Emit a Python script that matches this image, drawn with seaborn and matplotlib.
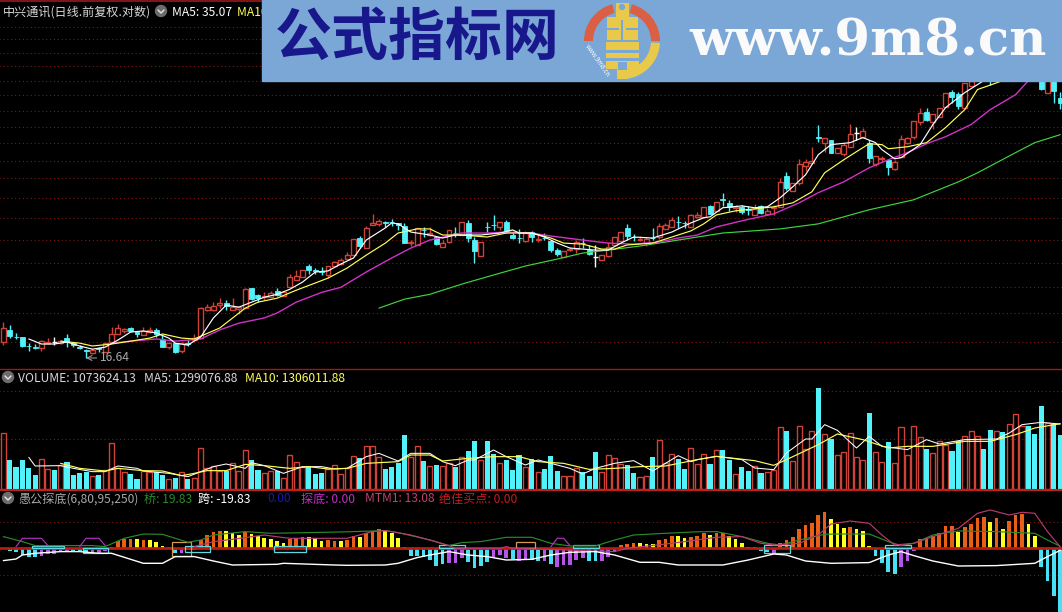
import numpy as np
import pandas as pd
import seaborn as sns
from matplotlib import pyplot as plt
from matplotlib.patches import Rectangle, Wedge, Circle

# daily candles, price
opens = [17.35,17.91,17.60,17.58,17.19,17.14,17.08,17.31,17.33,17.31,
         17.53,17.30,17.14,16.97,16.86,17.08,16.90,17.35,17.72,17.86,
         18.00,17.81,17.67,17.81,17.91,17.49,17.12,17.30,16.95,17.32,
         17.44,17.53,18.86,18.86,19.11,19.21,18.86,18.91,18.96,19.97,
         19.61,19.51,19.51,19.81,19.56,20.02,20.40,20.57,21.17,20.95,
         20.90,20.68,21.17,21.28,21.56,21.78,22.78,22.19,23.58,23.64,
         23.73,23.78,23.70,23.51,22.48,22.37,23.29,22.96,22.84,22.25,
         22.54,23.10,22.96,23.70,22.66,21.73,23.47,23.60,23.45,23.76,
         22.96,22.80,22.60,23.14,22.66,22.80,22.60,22.07,21.67,22.07,
         22.13,22.50,22.07,21.67,21.50,21.73,22.37,22.60,23.39,22.86,
         22.69,22.48,22.80,22.84,23.33,23.45,23.78,23.72,23.45,24.08,
         24.08,24.78,24.46,25.20,24.98,24.66,24.72,24.55,24.20,24.78,
         24.27,24.66,24.72,26.81,25.78,26.33,27.53,27.75,29.65,29.24,
         29.47,28.49,28.41,28.93,30.02,29.70,29.24,27.67,28.04,27.96,
         27.31,28.18,29.24,29.70,30.90,31.72,30.90,31.30,32.13,33.42,
         33.25,32.05,33.95,34.67,35.4,35.97,35.22,36.6,36.1,36.9,
         37.4,38.0,36.9,36.35,33.33,35.6,32.90]
closes = [18.00,17.63,17.56,17.17,17.15,17.10,17.39,17.35,17.33,17.39,
          17.35,17.21,17.10,16.93,16.99,17.03,17.30,17.72,18.00,17.95,
          17.86,17.72,17.86,17.91,17.72,17.12,17.30,16.90,17.30,17.28,
          17.53,18.96,19.01,19.06,19.21,19.06,19.01,19.01,19.92,19.41,
          19.46,19.56,19.71,19.61,19.76,20.57,20.62,20.95,20.95,20.90,
          20.84,21.17,21.39,21.50,21.78,22.72,22.31,23.39,23.70,23.83,
          23.68,23.74,23.58,22.48,22.54,23.39,23.25,23.08,22.42,22.48,
          23.27,23.06,23.76,22.78,22.01,22.54,23.43,23.56,23.76,23.14,
          22.78,22.76,23.08,22.84,22.72,22.76,22.07,21.84,22.01,22.13,
          22.54,22.46,21.84,21.67,21.78,22.25,22.84,23.14,22.90,22.82,
          22.75,22.72,22.76,23.51,23.58,23.89,23.74,23.68,24.20,24.20,
          24.72,24.27,25.05,25.15,24.72,24.72,24.40,24.51,24.59,24.33,
          24.46,24.72,26.39,25.98,26.33,27.67,27.82,27.89,29.60,29.63,
          28.49,28.86,29.09,29.94,30.02,30.18,28.11,28.26,28.11,27.46,
          27.82,29.55,29.63,30.98,31.64,31.06,31.55,32.05,33.33,32.98,
          32.22,34.22,34.40,35.22,35.0,34.85,36.35,36.0,37.1,37.8,
          38.1,36.7,35.4,33.69,35.97,33.51,32.47]
highs = [18.28,18.14,17.77,17.60,17.30,17.26,17.44,17.53,17.58,17.44,
         17.72,17.35,17.21,17.03,17.03,17.12,17.30,18.05,18.19,18.00,
         18.05,17.86,18.05,18.05,18.00,17.67,17.35,17.30,17.35,17.44,
         17.72,19.01,19.16,19.26,19.46,19.36,19.46,19.06,19.97,19.97,
         19.66,19.76,19.81,19.97,19.81,20.73,20.95,20.95,21.28,21.06,
         21.11,21.17,21.45,21.62,21.96,22.72,22.90,23.51,24.27,23.95,
         23.83,23.95,23.70,23.70,22.66,23.39,23.45,23.45,22.90,22.66,
         23.27,23.45,23.76,23.89,22.84,22.54,23.76,24.20,23.76,23.89,
         23.08,23.33,23.21,23.21,22.96,23.08,22.66,22.19,22.01,22.25,
         22.66,22.78,22.37,22.37,21.78,22.54,22.84,23.14,23.64,23.02,
         22.90,22.84,23.39,23.70,23.70,24.08,24.14,23.83,24.27,24.40,
         24.72,24.85,25.05,25.65,25.18,24.85,24.85,24.78,24.91,24.85,
         24.66,24.85,26.67,27.10,26.33,28.03,28.03,28.93,30.66,29.63,
         29.47,28.86,29.24,30.74,30.50,30.42,29.47,28.26,28.26,28.03,
         27.96,29.86,29.70,30.98,32.05,32.05,31.55,32.05,33.33,33.60,
         33.42,34.22,34.60,35.5,35.7,36.2,36.6,36.9,37.4,38.1,
         38.4,38.2,37.1,36.6,36.2,36.0,33.42]
lows = [17.22,17.53,17.49,17.12,16.95,17.03,16.95,17.26,17.21,17.26,
        17.12,17.12,17.03,16.64,16.81,16.90,16.90,17.35,17.72,17.77,
        17.81,17.58,17.67,17.77,17.58,17.12,17.03,16.86,16.86,17.17,
        17.44,17.53,18.81,18.81,18.96,18.86,18.86,18.67,18.96,19.36,
        19.26,19.36,19.51,19.56,19.56,20.02,20.40,20.57,20.73,20.73,
        20.68,20.51,21.17,21.23,21.56,21.78,22.19,22.19,23.58,23.51,
        23.45,23.51,23.27,22.48,22.31,22.37,22.84,22.90,22.37,22.25,
        22.48,22.84,22.96,22.54,21.34,21.73,23.14,23.27,23.27,23.08,
        22.72,22.48,22.54,22.54,22.54,22.66,21.96,21.73,21.67,22.01,
        21.90,22.19,21.78,21.11,21.50,21.67,22.37,22.60,22.66,22.60,
        22.60,22.31,22.66,22.72,23.33,23.45,23.39,23.39,23.45,24.02,
        24.08,24.27,24.46,24.78,24.46,24.40,24.27,24.20,24.20,24.27,
        24.20,24.20,24.72,25.85,25.78,26.19,27.17,27.75,29.32,28.56,
        28.49,28.49,28.26,28.93,29.47,29.70,27.74,27.53,27.82,26.88,
        27.24,28.18,29.16,29.55,30.66,30.98,30.34,31.30,32.13,32.47,
        31.97,32.05,33.95,34.5,34.8,34.04,35.1,35.8,36.0,36.7,
        37.2,36.5,35.2,33.6,33.33,32.47,31.97]

# price moving averages, read at the bars listed
ma5_idx = [4,6,8,10,12,14,16,18,20,22,24,26,27,29,31,33,35,37,39,41,43,45,47,49,51,53,55,57,60,61,
           62,64,65,67,69,71,73,75,78,80,81,83,85,87,89,91,93,95,97,99,102,105,108,110,111,113,116,
           118,120,122,124,126,128,130,133,135,137,138,140,141,144,146,148,151,154,157,160,163,166]
ma5 = [17.49,17.26,17.26,17.35,17.17,17.03,17.12,17.44,17.81,17.86,17.77,17.53,17.30,17.21,17.58,
       18.48,19.11,19.01,19.26,19.51,19.66,19.92,20.30,20.84,20.90,21.28,21.62,22.66,23.39,23.70,
       23.64,23.14,23.08,22.96,22.78,22.96,22.96,22.96,23.08,23.27,23.08,23.08,22.84,22.48,22.19,
       22.13,22.07,22.07,22.48,22.84,22.78,23.14,23.70,24.02,24.08,24.66,24.78,24.66,24.72,25.31,
       26.05,26.88,28.33,29.09,29.24,29.63,29.24,28.71,28.03,28.11,29.09,30.66,32.05,33.33,34.40,
       35.3,36.3,36.4,35.07]
ma10_idx = [9,12,14,17,20,23,25,28,30,34,38,40,43,46,49,51,54,57,60,62,65,67,69,72,76,79,83,86,88,91,
            94,96,98,102,105,108,110,112,115,118,121,124,127,129,132,134,136,138,139,142,145,148,151,
            153,157,160,163,166]
ma10 = [17.39,17.30,17.17,17.26,17.39,17.53,17.72,17.53,17.49,18.00,18.96,19.26,19.46,19.87,20.25,
        20.51,21.06,21.78,22.48,23.08,23.33,23.33,22.96,22.96,22.84,23.08,23.08,22.78,22.48,22.42,
        22.13,22.13,22.37,22.48,22.84,23.21,23.64,24.20,24.46,24.59,24.72,24.98,25.71,27.02,27.96,
        28.56,29.16,29.09,28.78,28.93,29.24,30.42,31.88,33.60,34.40,35.2,36.4,36.87]
ma30_idx = [17,20,24,27,31,34,37,41,43,46,50,53,54,57,61,64,67,72,76,79,83,86,91,95,99,103,106,109,
            112,116,121,125,128,132,136,139,142,145,148,152,155,159,161,163,166]
ma30 = [17.30,17.39,17.49,17.39,17.49,17.91,18.23,18.48,18.72,19.26,19.76,20.02,20.22,20.84,21.62,
        22.19,22.66,23.08,23.08,23.14,23.08,22.90,22.66,22.48,22.42,22.54,22.78,22.96,23.45,23.83,
        24.27,24.98,25.65,26.39,27.38,27.96,28.49,29.16,29.70,30.66,31.88,33.16,34.40,35.0,36.0]
ma120_idx = [59,63,67,72,77,82,87,91,95,100,104,109,113,122,128,132,136,143,150,153,159,162,166]
ma120 = [18.96,19.41,19.66,20.19,20.68,21.17,21.56,21.90,22.07,22.31,22.54,22.84,23.08,23.33,23.64,
         24.08,24.53,25.18,26.39,27.02,28.49,29.24,29.86]
price_grid = [39.58,38.36,36.97,35.74,34.40,33.16,31.80,30.50,29.24,27.89,26.67,25.31,24.02,22.66,
              21.34,20.02,18.72,17.35]

# volume in thousands
volume = [1113,580,447,580,413,280,593,400,380,480,547,280,327,347,260,287,380,913,413,340,
          300,200,367,340,333,280,200,227,347,200,227,813,413,467,367,367,513,360,780,580,
          380,313,360,360,213,680,533,447,447,300,327,400,480,300,413,660,613,860,860,633,
          400,433,513,1080,647,860,560,460,480,460,513,447,647,760,960,580,960,693,513,580,
          380,680,433,593,333,400,660,360,253,253,413,347,260,733,333,680,613,493,480,313,
          233,267,640,980,513,693,593,400,813,493,700,507,773,787,587,300,440,367,453,327,
          340,387,1240,1167,553,1260,800,1160,2020,1100,1007,680,740,1120,640,580,1527,740,540,947,
          520,1240,680,1260,1040,800,720,960,880,767,960,1060,1160,1053,800,1187,1167,1140,1300,1500,
          1253,1267,1107,1667,1320,1300,1074]
vol5_idx = [4,5,9,11,14,16,18,21,22,26,29,31,33,35,38,39,41,44,47,50,52,54,
            57,59,62,64,67,69,71,73,74,77,79,82,84,86,89,91,93,96,99,102,104,106,108,109,
            112,116,118,121,123,126,127,129,131,134,136,138,142,145,147,151,156,158,160,163,166]
vol5 = [633,460,467,413,347,347,460,413,360,313,247,347,447,500,413,527,467,313,447,447,400,413,
        647,713,560,713,713,547,467,580,580,780,647,480,580,513,413,300,413,513,567,360,513,667,547,587,
        653,587,420,387,720,1000,1000,1287,1173,820,1053,853,787,987,900,987,1000,1120,1287,1333,1299]
vol10_idx = [9,12,16,18,22,25,28,30,32,35,38,41,45,48,51,54,
             57,62,64,67,69,73,77,81,84,88,92,96,100,104,109,
             112,118,121,123,128,131,135,139,142,146,151,155,159,162,166]
vol10 = [513,413,360,413,367,360,267,313,367,367,493,467,413,447,400,413,
         513,547,680,680,560,613,647,647,547,513,393,413,447,460,587,
         653,567,473,587,887,1100,987,820,853,853,953,953,1087,1220,1306]
vol_grid = [1000,1960]

# lower indicator
ind_values = [-5,-25,-35,-70,-85,-90,-75,-60,-55,-40,-30,-40,-35,-50,-50,-50,-30,17,77,93,
              93,90,83,83,60,27,13,-50,-43,-15,-15,83,133,160,173,173,150,133,167,140,
              123,107,93,73,57,97,100,113,113,100,73,83,73,73,87,123,110,150,177,190,
              173,157,103,10,-77,-77,-90,-117,-173,-157,-150,-143,-100,-133,-193,-177,-140,-100,-67,-100,
              -110,-123,-117,-117,-127,-127,-157,-183,-167,-167,-117,-100,-123,-127,-123,-83,-33,33,43,50,
              50,43,43,83,93,123,123,103,117,123,150,133,153,153,123,93,57,17,17,-23,
              -37,-43,57,83,113,193,233,257,333,360,290,243,203,213,190,173,23,-73,-143,-233,
              -260,-183,-123,-23,90,107,127,150,223,223,163,213,243,303,313,260,303,193,273,333,
              347,243,123,-183,-323,-477,-640]
ind_state = list("BAAAAABBBB" "BAAABBBDCC" "CDCDDDCABB" "ACCCCDDDCD" "DDDDDCCCDD" "DCCDCCDCCC"
                 "DDDDAAAAAA" "BBBAAAABBB" "ABBAABABBB" "BBAABBBCCC" "DDDCCCDDCC" "CDCCDDDDDA"
                 "ABCCCCCCCC" "DDDCDDDAAA" "ABBBCCCCCC" "DCCCCDCDCC" "CDDAAAA")
bridge_idx = [0,3,5,9,14,16,19,22,25,27,29,31,33,38,42,48,54,60,62,67,70,72,75,79,83,86,89,93,96,99,
              104,109,112,116,120,122,125,129,131,136,139,141,143,146,150,156,162,164,166]
bridge = [117,67,27,27,27,17,100,143,140,100,60,83,133,167,150,157,165,177,157,83,27,57,67,110,110,
          50,23,23,83,133,150,165,167,117,50,33,83,140,143,143,67,27,50,133,173,167,150,83,20]
span_idx = [0,2,3,5,9,12,15,17,19,22,25,27,30,33,36,43,44,52,54,60,62,65,67,70,73,76,79,83,86,89,
            93,96,100,103,106,110,113,117,121,123,126,130,136,139,141,143,146,150,156,162,164,166]
span = [-123,-107,-67,-50,-33,-33,-50,-50,-90,-150,-150,-83,-83,-127,-167,-160,-150,-167,-170,-167,
        -150,-93,-67,-33,-67,-83,-117,-110,-67,-40,-33,-67,-140,-140,-167,-167,-167,-117,-57,-67,
        -127,-150,-143,-67,-33,-73,-127,-177,-173,-150,-83,-20]
mtm_idx = [30,33,36,41,44,45,54,58,60,64,67,70,71,78,79,80,96,98,105,112,116,119,121,125,128,
           130,133,136,138,140,143,146,150,153,155,158,160,162,164,166]
mtm = [17,67,90,133,107,100,100,167,177,133,83,27,0,0,17,0,-33,0,50,110,117,50,33,50,133,
       243,273,250,133,33,50,117,200,350,383,333,360,350,167,13]
bottom_idx = [[2,3,6,7],[12,13,15,16],[86,87,88,89]]
bottom_val = [17,100,100,27]
box_start = [5,13,27,29,43,69,81,90,120,139]
box_end = [9,16,29,32,47,72,83,93,123,142]
box_lo = [0,-50,-73,-40,-40,0,0,0,-43,0]
box_hi = [27,0,67,27,27,33,67,33,33,33]
box_kind = list("ccocccoccc")
ind_grid = [263,-267]

RED = "#cf4238"
CYAN = "#52f2fa"
GRID = "#7c1a14"
state_colors = {"A": "#48e0f4", "B": "#b455e6", "C": "#ea5f16", "D": "#ffff20"}

sns.set_theme(style="dark", rc={"figure.facecolor": "black", "axes.facecolor": "black",
                                "savefig.facecolor": "black"})
plt.rcParams["font.family"] = ["Noto Sans CJK SC", "DejaVu Sans"]

fig = plt.figure(figsize=(10.62, 6.12), dpi=100)
H = 612
ax_price = fig.add_axes([0, (H - 368) / H, 1, 368 / H])
ax_vol = fig.add_axes([0, (H - 490) / H, 1, 122 / H])
ax_ind = fig.add_axes([0, 0, 1, 122 / H])
ax_top = fig.add_axes([0, 0, 1, 1])

x = np.arange(len(opens))
o, c, h, l = map(np.array, (opens, closes, highs, lows))
prev = np.r_[c[0], c[:-1]]
up = (c > o) | ((c == o) & (c >= prev))
flat = c == o


def ma_line(ax, idx, vals, color, lw=0.85):
    sns.lineplot(x=idx, y=vals, ax=ax, color=color, lw=lw, estimator=None, zorder=5)


# candles
wick_colors = np.where(flat, "white", np.where(up, RED, CYAN))
ax_price.vlines(x, l, h, colors=wick_colors, lw=1, zorder=2)
bot = np.minimum(o, c)
top = np.maximum(o, c)
body = np.maximum(top - bot, 0.02 * top / 17)
ax_price.bar(x[up & ~flat], body[up & ~flat], bottom=bot[up & ~flat], width=0.78,
             facecolor="black", edgecolor=RED, lw=1, zorder=3)
ax_price.bar(x[~up & ~flat], body[~up & ~flat], bottom=bot[~up & ~flat], width=0.78,
             facecolor=CYAN, edgecolor=CYAN, lw=0.6, zorder=3)
ax_price.hlines(c[flat], x[flat] - 0.4, x[flat] + 0.4, colors="white", lw=1, zorder=3)
ax_price.hlines(price_grid, -1, 170, colors=GRID, lw=0.8, linestyles=(0, (1, 2.5)), zorder=1)
ma_line(ax_price, ma120_idx, ma120, "#3fd43f")
ma_line(ax_price, ma30_idx, ma30, "#cf32c8", 1.0)
ma_line(ax_price, ma10_idx, ma10, "#ffff5a")
ma_line(ax_price, ma5_idx, ma5, "white")
ax_price.annotate("16.64", xy=(13, 16.64), xytext=(10, 0), textcoords="offset points",
                  color="#a8a8a8", fontsize=8.7, va="center", ha="left",
                  arrowprops=dict(arrowstyle="->", color="#a8a8a8", lw=0.7, shrinkA=0, shrinkB=0))
ax_price.set_yscale("log")
ax_price.set_ylim(16.21, 42.48)

# volume
vol_df = pd.DataFrame({"i": x, "vol": volume, "up": up})
sns.barplot(data=vol_df[vol_df.up], x="i", y="vol", native_scale=True, width=0.8, fill=False,
            color=RED, saturation=1, linewidth=1, errorbar=None, ax=ax_vol, zorder=3)
sns.barplot(data=vol_df[~vol_df.up], x="i", y="vol", native_scale=True, width=0.8,
            color=CYAN, saturation=1, linewidth=0, errorbar=None, ax=ax_vol, zorder=3)
ax_vol.hlines(vol_grid, -1, 170, colors=GRID, lw=0.8, linestyles=(0, (1, 2.5)), zorder=1)
ma_line(ax_vol, vol5_idx, vol5, "white", 0.75)
ma_line(ax_vol, vol10_idx, vol10, "#ffff5a", 0.85)
ax_vol.set_ylim(-20, 2420)

# indicator
ind_df = pd.DataFrame({"i": x, "val": ind_values, "state": ind_state})
sns.barplot(data=ind_df, x="i", y="val", hue="state", palette=state_colors, dodge=False,
            native_scale=True, width=0.58, saturation=1, linewidth=0, errorbar=None,
            legend=False, ax=ax_ind, zorder=3)
ax_ind.hlines(ind_grid, -1, 170, colors=GRID, lw=0.8, linestyles=(0, (1, 2.5)), zorder=1)
ax_ind.axhline(0, color="#b81c10", lw=2, zorder=4)
for s, e, lo, hi, k in zip(box_start, box_end, box_lo, box_hi, box_kind):
    ax_ind.add_patch(Rectangle((s - 0.5, lo), e - s + 1, hi - lo, fill=False, lw=0.9, zorder=4,
                               edgecolor="#5fd8e0" if k == "c" else "#d89a50"))
ma_line(ax_ind, bridge_idx, bridge, "#2b8a2b")
ma_line(ax_ind, mtm_idx, mtm, "#b83a70")
for idx in bottom_idx:
    ma_line(ax_ind, idx, bottom_val, "#b030c0")
ma_line(ax_ind, span_idx, span, "white", 1.0)
ax_ind.set_ylim(-637, 583)

for ax in (ax_price, ax_vol, ax_ind):
    ax.set_xlim(-0.518, 166.28)
    ax.set_axis_off()

# overlay in pixels: headers, separators, watermark banner
ax_top.set_xlim(0, 1062)
ax_top.set_ylim(612, 0)
ax_top.set_axis_off()
ax_top.patch.set_alpha(0)
for yy, col, lw in [(1, "#a01818", 1.2), (368.5, "#a01818", 1), (490, "#c42018", 1.5)]:
    ax_top.plot([0, 1062], [yy, yy], color=col, lw=lw, zorder=2)


def label(px, py, s, color):
    # common baseline, so CJK and latin headers sit level
    ax_top.text(px, py + 4.5, s, color=color, fontsize=8.7, va="baseline", ha="left", zorder=3)


def icon(px, py):
    ax_top.add_patch(Circle((px, py), 5.5, color="#6c6c6c", zorder=3))
    ax_top.plot([px - 3, px, px + 3], [py - 1, py + 2, py - 1], color="#e8e8e8", lw=1, zorder=4)


label(3, 11, "中兴通讯(日线.前复权.对数)", "#d8d8d8")
icon(161, 11)
label(172, 11, "MA5: %.2f" % ma5[-1], "white")
label(237, 11, "MA10: %.2f" % ma10[-1], "#ffff5a")

icon(8, 377)
label(18, 377, "VOLUME: %.2f" % 1073624.13, "#d8d8d8")
label(144, 377, "MA5: 1299076.88", "#d8d8d8")
label(245, 377, "MA10: 1306011.88", "#ffff5a")

icon(8, 498)
label(18, 498, "愚公探底(6,80,95,250)", "#a8a8a8")
label(144, 498, "桥: %.2f" % 19.83, "#2b8a2b")
label(198, 498, "跨: %.2f" % -19.83, "white")
label(267, 498, "0.00", "#1818b0")
label(301, 498, "探底: 0.00", "#c030c0")
label(365, 498, "MTM1: 13.08", "#c04070")
label(439, 498, "绝佳买点: 0.00", "#c81c1c")

# banner
BANNER = "#7ba7d7"
ax_top.add_patch(Rectangle((262, 0), 800, 81, color=BANNER, zorder=10))
ax_top.text(417, 38, "公式指标网", color="#18188c", fontsize=41, fontweight="black",
            ha="center", va="center", zorder=11)
ax_top.text(868, 56, "www.9m8.cn", color="#fafafa", fontsize=37, fontweight="bold",
            family="DejaVu Serif", ha="center", va="baseline", zorder=11)
logo = (622, 41)
for t1, t2, col in [(180, 255, "#d95f45"), (285, 360, "#d95f45"), (3, 95, "#e9c949")]:
    ax_top.add_patch(Wedge(logo, 38, t1, t2, width=9, color=col, zorder=11, lw=0))
ax_top.add_patch(Rectangle((616, 3), 13, 14, color="#e9c949", zorder=12, lw=0))
ax_top.add_patch(Rectangle((607, 17), 31, 23, color="#e9c949", zorder=12, lw=0))
ax_top.add_patch(Rectangle((606, 42), 33, 27, color="#e9c949", zorder=12, lw=0))
ax_top.add_patch(Rectangle((617, 69), 11, 10, color="#e9c949", zorder=12, lw=0))
ax_top.add_patch(Circle((622, 7), 2.5, color=BANNER, zorder=13))
for bx, by, bw, bh in [(607, 28, 12, 2), (626, 28, 12, 2), (621, 20, 2, 20), (606, 50, 33, 2.5),
                       (606, 58, 33, 2.5), (618, 62, 9, 8)]:
    ax_top.add_patch(Rectangle((bx, by), bw, bh, color=BANNER, zorder=13, lw=0))
ax_top.text(597, 61, "www.9m8.cn", color="white", fontsize=4.5, rotation=-55,
            ha="center", va="center", zorder=13)

fig.savefig("out.png", dpi=100)
